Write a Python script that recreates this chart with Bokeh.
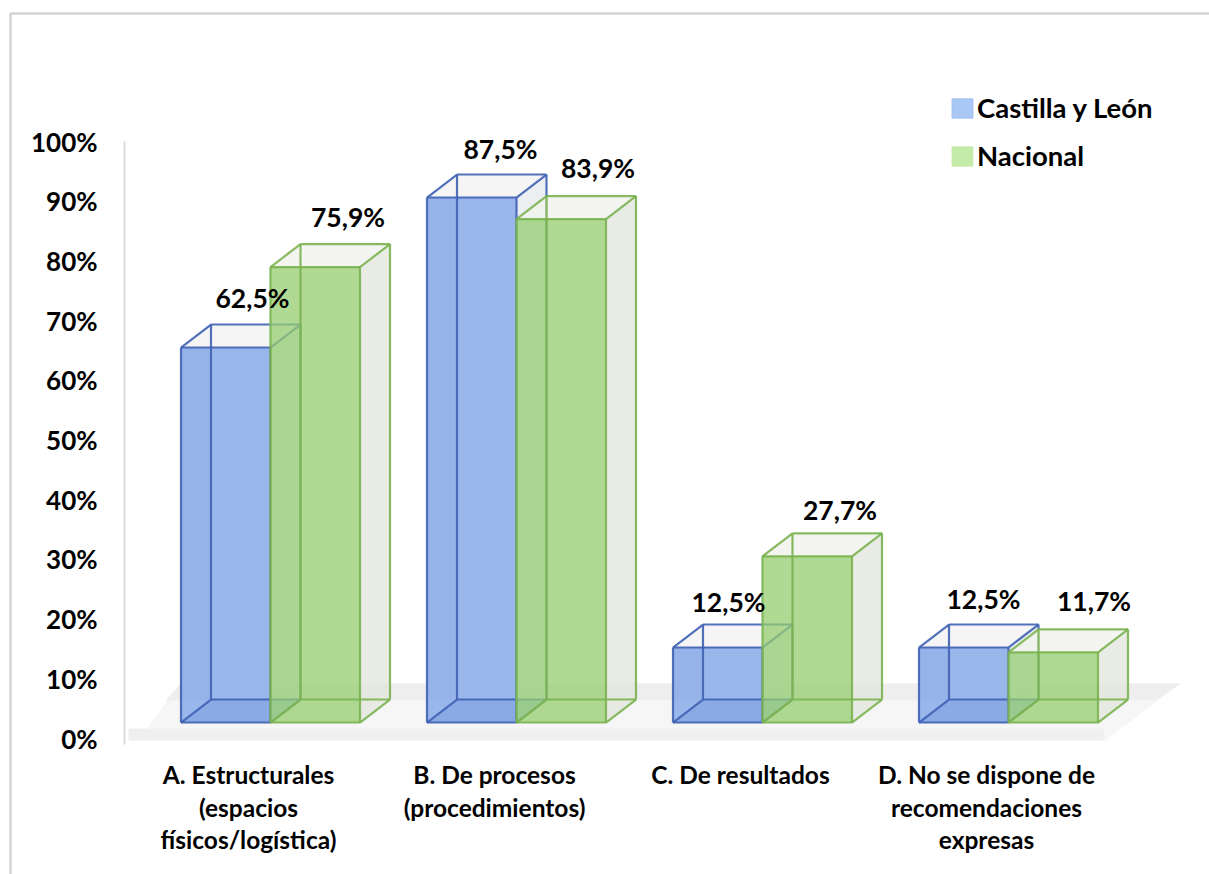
from bokeh.plotting import figure
from bokeh.models import FixedTicker, Range1d, Legend, LegendItem, BoxAnnotation, ColumnDataSource
from bokeh.core.properties import value
from bokeh.embed import file_html
from bokeh.resources import INLINE

# ---- data
categories = ["A. Estructurales\n(espacios\nfísicos/logística)",
              "B. De procesos\n(procedimientos)",
              "C. De resultados",
              "D. No se dispone de\nrecomendaciones\nexpresas"]
castilla = [62.5, 87.5, 12.5, 12.5]
nacional = [75.9, 83.9, 27.7, 11.7]
series_names = ["Castilla y León", "Nacional"]
y_ticks = list(range(0, 101, 10))

# ---- layout constants, in data units
FONT = "Lato"
BW = 89.5 / 246      # bar width
DX = 30 / 246        # depth, horizontal
DY = 23 / 5.97       # depth, vertical
BASE = 16 / 5.97     # front base of the boxes above 0%
VS = 6.0 / 5.97      # value scale
SHIFT = 22 / 246     # group centre relative to tick

# label nudges in pixels
lab_dx = {0: [-18, -16, -34, -25], 1: [-12, -8, -12, -4]}
lab_dy = {0: [50, 49, 46, 49], 1: [50, 51, 46, 51]}

p = figure(width=1209, height=874, output_backend="svg", toolbar_location=None,
           x_range=Range1d(-0.00813, 4.9065), y_range=Range1d(-22.78, 123.62),
           min_border_left=0, min_border_right=0, min_border_top=0, min_border_bottom=0,
           outline_line_color=None, background_fill_color="white", border_fill_color="white")
p.grid.visible = False

# axes
p.yaxis.fixed_location = 0.496
p.yaxis.ticker = FixedTicker(ticks=y_ticks)
p.yaxis.major_label_overrides = {t: f"{t}%" for t in y_ticks}
p.yaxis.bounds = (-1, 100)
p.yaxis.axis_line_color = "#dcdcdc"
p.yaxis.axis_line_width = 2
p.yaxis.major_tick_line_color = None
p.yaxis.minor_tick_line_color = None
p.yaxis.major_label_standoff = 21
p.yaxis.major_label_text_font = FONT
p.yaxis.major_label_text_font_style = "bold"
p.yaxis.major_label_text_font_size = "26px"
p.yaxis.major_label_text_color = "black"

p.xaxis.fixed_location = -1.5
p.xaxis.ticker = FixedTicker(ticks=[1, 2, 3, 4])
p.xaxis.major_label_overrides = {i + 1: c for i, c in enumerate(categories)}
p.xaxis.axis_line_color = None
p.xaxis.major_tick_line_color = None
p.xaxis.minor_tick_line_color = None
p.xaxis.major_label_standoff = 7
p.xaxis.major_label_text_font = FONT
p.xaxis.major_label_text_font_style = "bold"
p.xaxis.major_label_text_font_size = "24.5px"
p.xaxis.major_label_text_color = "black"
p.xaxis.major_label_text_line_height = 1.12

# frame of the picture
p.add_layout(BoxAnnotation(left=10, right=1400, top=13, bottom=1200,
                           left_units="canvas", right_units="canvas",
                           top_units="canvas", bottom_units="canvas",
                           fill_alpha=0, line_color="#d4d4d4", line_alpha=1, line_width=2.5))

# floor
p.patch([0.581, 0.724, 4.789, 4.484], [1.34, 9.21, 9.21, -0.33],
        fill_color="#f6f6f6", line_color=None)
p.patch([0.663, 0.724, 4.789, 4.687], [6.37, 9.21, 9.21, 6.37],
        fill_color="#eeeeee", line_color=None)
p.patch([0.512, 0.512, 4.476, 4.476], [-0.33, 1.68, 1.68, -0.33],
        fill_color="#efefef", line_color=None)


def box(vals, off, front, line, side, top, bottom, bottom_alpha, strip_alpha, front_alpha):
    x0 = [i + 1 + SHIFT + off for i in range(4)]
    x1 = [x + BW for x in x0]
    T = [BASE + v * VS for v in vals]
    B = BASE
    p.patches([[a, b, b + DX, a + DX] for a, b in zip(x0, x1)],
              [[t, t, t + DY, t + DY] for t in T],
              fill_color=top, fill_alpha=0.8, line_color=None)
    p.patches([[b, b + DX, b + DX, b] for b in x1],
              [[B, B + DY, t + DY, t] for t in T],
              fill_color=side, fill_alpha=0.75, line_color=None)
    p.quad(left=x0, right=x1, bottom=[B] * 4, top=T,
           fill_color=front, fill_alpha=front_alpha, line_color=None)
    p.patches([[a, b, b + DX, a + DX] for a, b in zip(x0, x1)],
              [[B, B, B + DY, B + DY] for _ in x0],
              fill_color=bottom, fill_alpha=bottom_alpha, line_color=None)
    p.quad(left=x0, right=[a + DX for a in x0], bottom=[B + DY] * 4, top=T,
           fill_color=bottom, fill_alpha=strip_alpha, line_color=None)
    xs0, ys0, xs1, ys1 = [], [], [], []

    def seg(a, b, c, d):
        xs0.append(a); ys0.append(b); xs1.append(c); ys1.append(d)
    for a, b, t in zip(x0, x1, T):
        for ox, oy in ((0, 0), (DX, DY)):
            seg(a + ox, B + oy, b + ox, B + oy)
            seg(a + ox, t + oy, b + ox, t + oy)
            seg(a + ox, B + oy, a + ox, t + oy)
            seg(b + ox, B + oy, b + ox, t + oy)
        for c, e in ((a, B), (b, B), (a, t), (b, t)):
            seg(c, e, c + DX, e + DY)
    p.segment(xs0, ys0, xs1, ys1, line_color=line, line_width=2.2, line_alpha=0.9)
    return x0, T


x_b, T_b = box(castilla, -BW, "#97b5eb", "#3f62b4", "#e6e8ee", "#f3f3f3", "#7fa1e0", 0.6, 0.15, 0.97)
x_g, T_g = box(nacional, 0, "#96ce70", "#7ab350", "#e2e5dc", "#f1f2ec", "#9ccb7c", 0.0, 0.0, 0.75)


def labels(vals, xs, T, key):
    txt = [f"{v:.1f}".replace(".", ",") + "%" for v in vals]
    src = ColumnDataSource(dict(x=xs, y=T, t=txt, dx=lab_dx[key], dy=[-d for d in lab_dy[key]]))
    p.text("x", "y", text="t", source=src, x_offset="dx", y_offset="dy",
           text_align="center", text_baseline="middle", text_color="black",
           text_font=value(FONT), text_font_style="bold", text_font_size="26.5px")


labels(castilla, [x + BW for x in x_b], T_b, 0)
labels(nacional, [x + BW for x in x_g], T_g, 1)

# legend
nan = float("nan")
r1 = p.quad(left=[nan], right=[nan], bottom=[nan], top=[nan], fill_color="#a9c8f5", line_color="#9dbdee")
r2 = p.quad(left=[nan], right=[nan], bottom=[nan], top=[nan], fill_color="#c4eaa8", line_color="#c4eaa8")
leg = Legend(items=[LegendItem(label=series_names[0], renderers=[r1], index=0),
                    LegendItem(label=series_names[1], renderers=[r2], index=0)],
             location=(949, 702), background_fill_alpha=0, border_line_color=None,
             glyph_width=26, glyph_height=24, spacing=15, padding=0, margin=0,
             label_standoff=2, label_text_font=FONT, label_text_font_style="bold",
             label_text_font_size="27.5px", label_text_color="black")
p.add_layout(leg, "center")

open("out.html", "w").write(file_html(p, INLINE))
